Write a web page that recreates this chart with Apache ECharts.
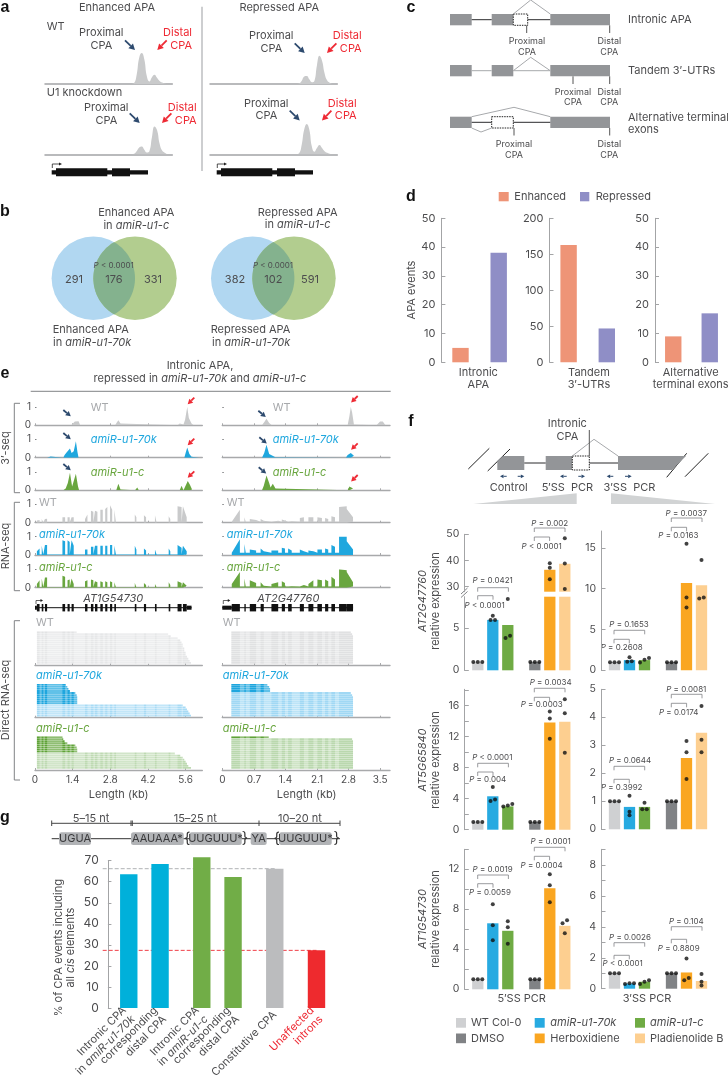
<!DOCTYPE html>
<html>
<head>
<meta charset="utf-8">
<script src="https://cdn.jsdelivr.net/npm/echarts@6/dist/echarts.min.js"></script>
<style>
  html, body { margin: 0; background: #fff; }
  #chart { width: 728px; height: 1081px; }
</style>
</head>
<body>
<div id="chart"></div>
<script>
// panel a: peak shapes on a 0-100 position axis
const aBins = [68, 70, 72, 74, 76, 78, 80, 82, 84, 86, 88, 90, 92, 94, 96]
const aEnhancedWt = [0, 0.03, 0.3, 0.85, 1, 0.8, 0.25, 0.08, 0.22, 0.3, 0.2, 0.1, 0.05, 0.02, 0]
const aEnhancedKd = [0, 0.02, 0.1, 0.22, 0.25, 0.15, 0.06, 0.1, 0.55, 0.9, 0.78, 0.35, 0.12, 0.05, 0]
const aRepressedWt = [0, 0.02, 0.1, 0.24, 0.26, 0.15, 0.06, 0.1, 0.6, 0.91, 0.75, 0.35, 0.12, 0.04, 0]
const aRepressedKd = [0, 0.03, 0.3, 0.8, 0.98, 0.8, 0.25, 0.08, 0.2, 0.3, 0.2, 0.1, 0.05, 0.02, 0]

// panel d
const dCategories = ['Enhanced', 'Repressed']
const dIntronic = [5, 38]
const dTandem = [163, 47]
const dTerminal = [9, 17]

// panel e: 3'-seq, [kb, normalised signal]
const seqWtL = [[0.5,0],[0.55,0.02],[0.7,0],[1.35,0],[1.4,0.1],[1.48,0.2],[1.52,0.28],[1.62,0.22],[1.68,0],[2.98,0],[3.04,0.15],[3.1,0.28],[3.18,0.1],[3.22,0],[5.3,0],[5.38,0.1],[5.45,0.2],[5.52,0.05],[5.58,0.3],[5.66,1],[5.72,0.4],[5.82,0.1],[5.9,0]]
const seq70kL = [[0.45,0],[0.5,0.08],[0.58,0.06],[0.62,0],[1.05,0],[1.1,0.15],[1.18,0.3],[1.3,0.5],[1.36,0.25],[1.44,0.35],[1.52,0.9],[1.58,0.3],[1.62,0],[2.35,0],[2.4,0.04],[2.45,0],[3.05,0],[3.1,0.1],[3.16,0],[4.1,0],[4.15,0.07],[4.2,0],[5.55,0],[5.6,0.25],[5.66,0.55],[5.74,0.2],[5.82,0.05],[5.88,0],[6.1,0],[6.14,0.06],[6.18,0]]
const seqCL = [[0.6,0],[0.65,0.04],[0.7,0],[1.05,0],[1.14,0.1],[1.22,0.4],[1.3,0.95],[1.38,0.2],[1.44,0.3],[1.52,0.9],[1.6,0.2],[1.64,0],[2.6,0],[2.66,0.05],[2.72,0],[3.02,0],[3.1,0.35],[3.18,0.05],[3.22,0],[3.72,0],[3.8,0.15],[3.86,0],[5.05,0],[5.12,0.1],[5.2,0],[5.38,0],[5.45,0.25],[5.52,0],[5.58,0.1],[5.68,0.5],[5.76,0.3],[5.84,0.05],[5.88,0]]
const seqWtR = [[0.88,0],[0.94,0.2],[0.98,0.35],[1.04,0.12],[1.1,0],[2.78,0],[2.82,0.5],[2.85,1],[2.88,0.7],[2.92,0.05],[2.95,0],[3.42,0],[3.5,0.2],[3.56,0.2],[3.62,0]]
const seq70kR = [[0.88,0],[0.93,0.25],[0.98,0.7],[1.04,0.2],[1.08,0.1],[1.18,0.03],[1.22,0],[2.74,0],[2.78,0.15],[2.85,0.25],[2.92,0.1],[2.96,0]]
const seqCR = [[0.88,0],[0.92,0.25],[0.98,0.8],[1.04,0.4],[1.07,0.15],[1.12,0.35],[1.18,0.1],[1.22,0],[2.78,0],[2.82,0.2],[2.86,0.3],[2.9,0.1],[2.93,0]]

// gene models, [start, end] in kb
const exonsL = [[0.07,0.17],[0.25,0.31],[0.37,0.45],[1.02,1.12],[1.21,1.29],[1.36,1.44],[1.86,1.95],[2.08,2.17],[2.23,2.32],[2.43,2.52],[2.61,2.69],[2.79,2.87],[2.95,3.01],[3.71,3.77],[4.05,4.13],[4.46,4.52],[4.97,5.03],[5.30,5.45],[5.50,5.64]]
const exonsR = [[0.21,0.39],[0.49,0.52],[0.61,0.75],[0.85,0.92],[1.09,1.24],[1.32,1.39],[1.46,1.54],[1.72,1.81],[1.91,2.02],[2.11,2.21],[2.28,2.35],[2.42,2.50],[2.59,2.76],[2.76,2.9]]
const utrL = [[0,0.07],[5.64,5.82]]
const utrR = [[0,0.21],[2.76,2.9]]

// RNA-seq, per exon [height at start, height at end]
const rnaWtL = [[0.12,0.15],[0.2,0.2],[0.2,0.22],[0.3,0.3],[0.3,0.3],[0.3,0.3],[0.2,0.45],[0.65,0.6],[0.65,0.6],[0.7,0.7],[0.75,0.85],[0.95,0.7],[0.7,0.65],[0.45,0.3],[0.4,0.3],[0.4,0.3],[0.35,0.2],[0.9,0.85],[0.9,0.3]]
const rna70kL = [[0.2,0.35],[0.5,0.55],[0.55,0.55],[0.8,0.75],[0.8,0.7],[0.8,0.5],[0.3,0.3],[0.45,0.45],[0.5,0.5],[0.5,0.5],[0.5,0.5],[0.55,0.55],[0.5,0.5],[0.5,0.3],[0.35,0.25],[0.3,0.25],[0.35,0.2],[0.55,0.4],[0.5,0.2]]
const rnaCL = [[0.2,0.4],[0.5,0.5],[0.55,0.55],[0.65,0.6],[0.4,0.45],[0.5,0.2],[0.35,0.4],[0.45,0.4],[0.35,0.3],[0.35,0.3],[0.35,0.3],[0.35,0.3],[0.3,0.25],[0.25,0.15],[0.25,0.15],[0.2,0.15],[0.3,0.15],[0.35,0.25],[0.3,0.1]]
const rnaWtR = [[0.15,0.7],[0.3,0.2],[0.2,0.15],[0.2,0.1],[0.08,0.1],[0.18,0.12],[0.12,0.08],[0.25,0.3],[0.3,0.3],[0.3,0.25],[0.25,0.2],[0.35,0.3],[0.85,0.9],[0.75,0.3]]
const rna70kR = [[0.2,0.85],[0.6,0.6],[0.3,0.25],[0.35,0.2],[0.25,0.25],[0.4,0.35],[0.35,0.25],[0.3,0.2],[0.25,0.2],[0.3,0.3],[0.35,0.3],[0.55,0.45],[1,1],[0.75,0.3]]
const rnaCR = [[0.2,0.85],[0.5,0.45],[0.4,0.25],[0.3,0.1],[0.2,0.3],[0.35,0.25],[0.12,0.08],[0.12,0.15],[0.2,0.4],[0.45,0.4],[0.45,0.35],[0.6,0.45],[1,0.95],[0.85,0.3]]

// direct RNA-seq: where each read ends (kb), top row first
const readsWtL = [1.55,4.95,5.05,5.3,5.4,5.45,5.5,5.5,5.55,5.55,5.6,5.6,5.65,5.7,5.75,5.8]
const reads70kL = [1.15,1.2,1.24,1.3,1.5,1.55,1.57,1.57,1.57,1.57,5.5,5.6,5.65,5.7,5.75,5.8]
const readsCL = [1.02,1.05,1.1,1.2,1.5,1.55,1.57,1.57,5.2,5.4,5.5,5.55,5.6,5.65,5.7,5.8]
const readsWtR = [2.85,2.88,2.9,2.9,2.9,2.9,2.9,2.9,2.9,2.9,2.9,2.9,2.9,2.9,2.9,2.9]
const reads70kR = [1.0,1.04,1.06,1.06,2.85,2.88,2.9,2.9,2.9,2.9,2.9,2.9,2.9,2.9,2.9,2.9]
const readsCR = [1.03,2.88,2.9,2.9,2.9,2.9,2.9,2.9,2.9,2.9,2.9,2.9,2.9,2.9,2.9,2.9]

// panel f: WT Col-0, amiR-u1-70k, amiR-u1-c, DMSO, Herboxidiene, Pladienolide B
const fSamples = ['WT Col-0', 'amiR-u1-70k', 'amiR-u1-c', 'DMSO', 'Herboxidiene', 'Pladienolide B']
const f5ss47760 = [1, 6, 5.39, 1, 36.4, 38.7]
const f5ss47760Dots = [[1,1,1],[6.5,6,6],[8.5,4.1,3.85],[1,1,1],[38.9,37.2,32.8],[48.5,38.8,29]]
const f3ss47760 = [1, 1.25, 1.25, 1, 10.7, 10.4]
const f3ss47760Dots = [[1,1,1],[1.6,1.1,1.05],[1.5,1.3,0.95],[1,1,1],[15.5,8.9,7.7],[13.5,8.9,8.8]]
const f5ss65840 = [1, 4.3, 3, 1, 13.8, 13.9]
const f5ss65840Dots = [[1,1,1],[5.5,3.9,3.7],[3.3,3.1,3],[1,1,1],[15.2,14.3,11.7],[16.8,15,9.9]]
const f3ss65840 = [1, 0.8, 0.8, 1, 2.55, 3.45]
const f3ss65840Dots = [[1,1,1],[1.2,0.63,0.5],[0.95,0.72,0.72],[1,1,1],[3.15,2.75,1.8],[4.4,3.2,2.75]]
const f5ss54730 = [1, 6.6, 5.85, 1, 10.1, 6.35]
const f5ss54730Dots = [[1,1,1],[8.5,6.4,4.9],[6.8,6.2,4.55],[1,1,1],[11.5,10.4,8.7],[6.9,6.6,5.6]]
const f3ss54730 = [1, 0.33, 0.45, 1, 1.05, 0.5]
const f3ss54730Dots = [[1,1,1],[0.35,0.35,0.3],[0.55,0.45,0.3],[1,1,1],[1.95,0.7,0.55],[0.95,0.45,0.2]]

// panel g: blank entries only space the groups apart
const gCategories = ['', '', 'Intronic CPA\nin *amiR-u1-70k*', '', '', 'corresponding\ndistal CPA', '', '', '', 'Intronic CPA\nin *amiR-u1-c*', '', '', 'corresponding\ndistal CPA', '', '', '', 'Constitutive CPA', '', '', '', '#Unaffected\n#introns']
const gValues = [null, null, 63.6, null, null, 68.4, null, null, null, 71.6, null, null, 62.2, null, null, null, 66.2, null, null, null, 27.4]
const gConstitutiveLevel = 66.2
const gUnaffectedLevel = 27.4

const GREY = '#c9cacb', BLUE = '#1fa7de', GREEN = '#69a63f', RED = '#ee2a34', NAVY = '#2d4a6e'
const INK = '#4c4c4e', AXIS = '#a3a4a6', FONT = 'Inter'
const fColors = ['#cfd0d2', '#27aae1', '#6fab44', '#808285', '#faa621', '#fdcf90']
const gColors = { 2: '#00b0da', 5: '#00b0da', 9: '#71ad47', 12: '#71ad47', 16: '#bbbcbe', 20: '#ee2a2e' }

const grids = [], xAxes = [], yAxes = [], series = [], g = []

function addGrid(rect, x, y) {
  const i = grids.length
  grids.push(rect)
  xAxes.push({ gridIndex: i, splitLine: { show: false }, ...x })
  yAxes.push({ gridIndex: i, splitLine: { show: false }, ...y })
  return i
}

// ---- graphic helpers for the schematic parts
function label(x, y, text, o = {}) {
  const size = o.size || 11, color = o.color || INK
  const base = { fontSize: size, fontFamily: FONT, fill: color, color }
  const style = { ...base, align: o.align || 'center', verticalAlign: 'middle', fontWeight: o.weight || 400, fontStyle: o.italic ? 'italic' : 'normal' }
  if (text.includes('*')) {
    style.text = text.split('*').map((s, k) => s ? `{${k % 2 ? 'i' : 'n'}|${s}}` : '').join('')
    style.rich = {
      n: { fontSize: size, fontFamily: FONT, color },
      i: { fontSize: size, fontFamily: FONT, color, fontStyle: 'italic' },
    }
  } else {
    style.text = text
  }
  g.push({ type: 'text', x, y, rotation: o.rotation || 0, silent: true, style })
}
function line(x1, y1, x2, y2, stroke, lineWidth = 1, lineDash) {
  g.push({ type: 'line', silent: true, shape: { x1, y1, x2, y2 }, style: { stroke, lineWidth, lineDash } })
}
function poly(points, stroke, lineWidth = 1) {
  g.push({ type: 'polyline', silent: true, shape: { points }, style: { stroke, lineWidth, fill: null } })
}
function fillPoly(points, fill) {
  g.push({ type: 'polygon', silent: true, shape: { points }, style: { fill } })
}
function box(x, y, width, height, fill, stroke, lineDash) {
  g.push({ type: 'rect', silent: true, shape: { x, y, width, height }, style: { fill, stroke, lineDash, lineWidth: stroke ? 1 : 0 } })
}
function arrow(x1, y1, x2, y2, color, lw = 1.8, head = 6) {
  const d = Math.hypot(x2 - x1, y2 - y1), ux = (x2 - x1) / d, uy = (y2 - y1) / d
  const bx = x2 - ux * head, by = y2 - uy * head
  line(x1, y1, bx, by, color, lw)
  fillPoly([[x2, y2], [bx - uy * head * 0.55, by + ux * head * 0.55], [bx + uy * head * 0.55, by - ux * head * 0.55]], color)
}
function bracket(x1, x2, top, leg) {
  poly([[x1, leg], [x1, top], [x2, top], [x2, leg]], '#808285', 0.8)
}
function pLabel(x, y, text) {
  label(x, y, '*P*' + text, { size: 8 })
}

// ---- panel letters
const letters = [['a', 5, 8], ['b', 5, 212], ['c', 411, 8], ['d', 411, 197], ['e', 5, 374], ['f', 411, 422], ['g', 5, 818]]
letters.forEach(([s, x, y]) => g.push({ type: 'text', x, y, silent: true, style: { text: s, fontFamily: 'Liberation Sans', fontWeight: 700, fontSize: 16, fill: '#111', align: 'center', verticalAlign: 'middle' } }))

// ---- panel a
label(117, 8, 'Enhanced APA'); label(279.3, 8, 'Repressed APA')
line(202, 6.7, 202, 171, '#bcbec0', 1.5)
label(46.7, 26.3, 'WT', { align: 'left' }); label(46.7, 92.7, 'U1 knockdown', { align: 'left' })
;[[101.3, 33, 192, 125, 40.3], [271.3, 36, 361.7, 294.7, 43.3], [106.3, 107.7, 196.7, 129.7, 113.3], [266.3, 103.3, 356.7, 289.7, 110.7]].forEach(([px, py, dx, ax, ay]) => {
  label(px, py, 'Proximal'); label(px, py + 12.7, 'CPA')
  label(dx, py, 'Distal', { align: 'right', color: RED }); label(dx, py + 12.7, 'CPA', { align: 'right', color: RED })
  arrow(ax, ay, ax + 10, ay + 9.7, NAVY)
  arrow(ax + 41.7, ay, ax + 32.3, ay + 9.7, RED)
})
function aTrack(left, top, values) {
  const i = addGrid({ left, top, width: 127.3, height: 31 },
    { type: 'value', min: 0, max: 100, axisLabel: { show: false }, axisTick: { show: false }, axisLine: { lineStyle: { color: '#a3a4a6', width: 1.5 } } },
    { type: 'value', min: 0, max: 1, show: false })
  series.push({ type: 'line', xAxisIndex: i, yAxisIndex: i, smooth: true, showSymbol: false, lineStyle: { width: 0 }, areaStyle: { color: GREY, opacity: 1 }, data: aBins.map((b, k) => [b, values[k]]) })
}
aTrack(45, 53, aEnhancedWt); aTrack(45, 123.3, aEnhancedKd); aTrack(210, 53, aRepressedWt); aTrack(210, 123.3, aRepressedKd)
;[0, 165].forEach(dx => {
  box(51.7 + dx, 170.2, 96.3, 4.3, '#111')
  box(56 + dx, 168.3, 51.3, 8, '#111'); box(112 + dx, 168.3, 18, 8, '#111')
  poly([[52.3 + dx, 168], [52.3 + dx, 164], [60 + dx, 164]], '#222', 0.8)
  fillPoly([[62 + dx, 164], [59 + dx, 162.4], [59 + dx, 165.6]], '#222')
})

// ---- panel b
function lens(cx1, cx2, cy, r) {
  const pts = [], a = Math.acos((cx2 - cx1) / 2 / r)
  for (let k = 0; k <= 40; k++) { const t = -a + 2 * a * k / 40; pts.push([cx1 + r * Math.cos(t), cy + r * Math.sin(t)]) }
  for (let k = 0; k <= 40; k++) { const t = Math.PI - a + 2 * a * k / 40; pts.push([cx2 + r * Math.cos(t), cy + r * Math.sin(t)]) }
  return pts
}
function venn(cx1, cx2, nums, numXs, pX) {
  g.push({ type: 'circle', silent: true, shape: { cx: cx1, cy: 278.3, r: 41.7 }, style: { fill: '#b1d7f1' } })
  g.push({ type: 'circle', silent: true, shape: { cx: cx2, cy: 278.3, r: 41.7 }, style: { fill: '#b2cd8f' } })
  fillPoly(lens(cx1, cx2, 278.3, 41.7), '#84b28e')
  nums.forEach((n, k) => label(numXs[k], 279.7, String(n)))
  pLabel(pX, 265.7, ' < 0.0001')
}
venn(93.3, 135, [291, 176, 331], [74, 114, 153], 113.7)
venn(252.7, 294, [382, 102, 591], [235, 273.3, 310], 273)
label(136.3, 213, 'Enhanced APA'); label(136.3, 225.7, 'in *amiR-u1-c*')
label(297.7, 212.3, 'Repressed APA'); label(297.7, 225, 'in *amiR-u1-c*')
label(52.7, 329.3, 'Enhanced APA', { align: 'left' }); label(53, 342.7, 'in *amiR-u1-70k*', { align: 'left' })
label(210.7, 329.3, 'Repressed APA', { align: 'left' }); label(212, 342.7, 'in *amiR-u1-70k*', { align: 'left' })

// ---- panel c
const EXON = '#939598', INTRON = '#2b2b2d', SPLICE = '#a7a9ac'
function cRow(y, name, nameY) {
  box(450, y, 21.7, 11.3, EXON); box(550.3, y, 59.7, 11.3, EXON)
  label(628, nameY, name, { align: 'left' })
}
function cLabels(px, y) {
  label(px, y, 'Proximal', { size: 9 }); label(px, y + 10.5, 'CPA', { size: 9 })
  label(609.3, y, 'Distal', { size: 9 }); label(609.3, y + 10.5, 'CPA', { size: 9 })
}
cRow(14, 'Intronic APA', 19.7)
box(491.7, 14, 21.6, 11.3, EXON); box(513.3, 14, 14.4, 11.3, '#fff', '#222', [1.5, 1])
line(471.7, 19.7, 491.7, 19.7, INTRON); line(527.7, 19.7, 550.3, 19.7, INTRON)
poly([[513.3, 14], [530.7, 0], [550.3, 14]], SPLICE)
line(526.7, 25.3, 526.7, 33, '#555'); line(609.7, 25.3, 609.7, 33, '#555')
cLabels(527, 41.3)
cRow(65, 'Tandem 3′-UTRs', 70.7)
box(491.7, 65, 21.6, 11.3, EXON)
line(471.7, 70.7, 491.7, 70.7, SPLICE); line(513.3, 70.7, 550.3, 70.7, SPLICE)
poly([[513.3, 70.7], [530.7, 57.3], [550.3, 70.7]], SPLICE)
line(573, 76.3, 573, 84, '#555'); line(609.7, 76.3, 609.7, 84, '#555')
cLabels(573, 92)
cRow(116.7, 'Alternative terminal', 117.3)
label(628, 130, 'exons', { align: 'left' })
box(491.7, 116.7, 21.6, 11.3, '#fff', '#222', [1.5, 1])
line(471.7, 122.3, 491.7, 122.3, INTRON); line(513.3, 122.3, 550.3, 122.3, INTRON)
poly([[471.7, 116.7], [514, 107.3], [550.3, 116.7]], SPLICE)
poly([[471.7, 128], [481, 132], [491.7, 128]], SPLICE)
line(514, 128, 514, 135.5, '#555'); line(609.7, 128, 609.7, 135.5, '#555')
cLabels(514, 144.3)

// ---- panel d
box(498.7, 192, 10, 9.3, '#ee9477'); label(514.3, 196.7, dCategories[0], { align: 'left' })
box(580, 192, 9.3, 9.3, '#8f8ec6'); label(595.7, 196.7, dCategories[1], { align: 'left' })
label(412, 290, 'APA events', { rotation: Math.PI / 2 })
function dPanel(left, name, max, ticks, values) {
  const i = addGrid({ left, top: 218.3, width: 76.4, height: 144 },
    { type: 'category', data: [name, ' '], axisLine: { show: false }, axisTick: { show: false },
      axisLabel: { show: false } },
    { type: 'value', min: 0, max, interval: ticks, axisLine: { show: true, lineStyle: { color: AXIS } },
      axisTick: { show: true, inside: true, length: 4, lineStyle: { color: AXIS } },
      axisLabel: { color: INK, fontSize: 11, fontFamily: FONT, margin: 6 } })
  series.push({ type: 'bar', xAxisIndex: i, yAxisIndex: i, barWidth: 16.4, data: values.map((v, k) => ({ value: v, itemStyle: { color: k ? '#8f8ec6' : '#ee9477' } })) })
}
dPanel(441.4, 'Intronic', 50, 10, dIntronic)
dPanel(549.5, 'Tandem', 200, 50, dTandem)
dPanel(655, 'Alternative', 50, 10, dTerminal)
label(478.3, 372.5, 'Intronic'); label(478.3, 385, 'APA')
label(589, 372.5, 'Tandem'); label(589, 385, '3′-UTRs')
label(690.7, 372.5, 'Alternative'); label(690.7, 385, 'terminal exons')

// ---- panel e
label(200, 365.3, 'Intronic APA,'); label(200, 378.3, 'repressed in *amiR-u1-70k* and *amiR-u1-c*')
line(30.7, 391.3, 390.7, 391.3, '#808285')
;[[403.3, 492.7, '3′-seq', 448], [502.3, 590.7, 'RNA-seq', 546], [620.7, 780, 'Direct RNA-seq', 700]].forEach(([a, b, s, my]) => {
  poly([[20, a], [14.3, a], [14.3, b], [20, b]], '#808285')
  label(6, my, s, { rotation: Math.PI / 2 })
})
const COLS = [
  { left: 35, width: 167.3, max: 6.22, ticks: [0, 1.4, 2.8, 4.2, 5.6], exons: exonsL, utr: utrL, start: 0.07, darkBelow: 2 },
  { left: 222.3, width: 167.7, max: 3.72, ticks: [0, 0.7, 1.4, 2.1, 2.8, 3.5], exons: exonsR, utr: utrR, start: 0.2, darkBelow: 1.2 },
]
function xTrackAxis(col, showLabels) {
  return { type: 'value', min: 0, max: col.max,
    axisLine: { show: true, lineStyle: { color: '#a8a9ab', width: 1.4 } },
    axisTick: { show: true, inside: true, length: 2, customValues: col.ticks, lineStyle: { color: '#a8a9ab' } },
    axisLabel: { show: showLabels, customValues: col.ticks, color: INK, fontSize: 10, fontFamily: FONT, margin: 5 } }
}
function signalTrack(col, baseline, color, data, showNums) {
  const i = addGrid({ left: col.left, top: baseline - 18.4, width: col.width, height: 18.4 }, xTrackAxis(col, false),
    { type: 'value', min: 0, max: 1, axisLine: { show: false },
      axisTick: { show: true, inside: true, length: 1.5, customValues: [1], lineStyle: { color: '#808285' } },
      axisLabel: { show: showNums, customValues: [0, 1], color: INK, fontSize: 10, fontFamily: FONT, margin: 4 } })
  series.push({ type: 'line', xAxisIndex: i, yAxisIndex: i, showSymbol: false, lineStyle: { width: 0 }, areaStyle: { color, opacity: 1 }, data })
}
function exonLine(exons, heights, level) {
  const out = []
  exons.forEach(([s, e], k) => { out.push([s, level], [s, heights[k][0]], [e, heights[k][1]], [e, level]) })
  return out
}
signalTrack(COLS[0], 425.3, GREY, seqWtL, true); signalTrack(COLS[0], 457.7, BLUE, seq70kL, true); signalTrack(COLS[0], 490.3, GREEN, seqCL, true)
signalTrack(COLS[1], 425.3, GREY, seqWtR, false); signalTrack(COLS[1], 457.7, BLUE, seq70kR, false); signalTrack(COLS[1], 490.3, GREEN, seqCR, false)
signalTrack(COLS[0], 522.7, GREY, exonLine(exonsL, rnaWtL, 0.01), true); signalTrack(COLS[0], 555, BLUE, exonLine(exonsL, rna70kL, 0.03), true); signalTrack(COLS[0], 587.7, GREEN, exonLine(exonsL, rnaCL, 0.02), true)
signalTrack(COLS[1], 522.7, GREY, exonLine(exonsR, rnaWtR, 0.05), false); signalTrack(COLS[1], 555, BLUE, exonLine(exonsR, rna70kR, 0.12), false); signalTrack(COLS[1], 587.7, GREEN, exonLine(exonsR, rnaCR, 0.06), false)

;[[90.7, 272.7]].forEach(([a, b]) => [a, b].forEach(x => {
  label(x, 407.3, 'WT', { align: 'left', color: '#a7a9ac' })
  label(x, 440, '*amiR-u1-70k*', { align: 'left', color: BLUE })
  label(x, 472.7, '*amiR-u1-c*', { align: 'left', color: GREEN })
}))
;[[39, 226.7]].forEach(([a, b]) => [a, b].forEach(x => {
  label(x, 502.3, 'WT', { align: 'left', color: '#a7a9ac' })
  label(x, 534.7, '*amiR-u1-70k*', { align: 'left', color: BLUE })
  label(x, 567.7, '*amiR-u1-c*', { align: 'left', color: GREEN })
}))
;[[36, 222.7]].forEach(([a, b]) => [a, b].forEach(x => {
  label(x, 622.7, 'WT', { align: 'left', color: '#a7a9ac' })
  label(x, 676, '*amiR-u1-70k*', { align: 'left', color: BLUE })
  label(x, 729, '*amiR-u1-c*', { align: 'left', color: GREEN })
}))
;[[63.3, 410, 194.3, 397.7], [63.3, 433, 194.3, 438.7], [63.3, 464, 194.3, 471.3], [258.3, 410.7, 357.7, 396], [259.3, 437.3, 357.7, 443.3], [258.7, 467.3, 357.7, 475]].forEach(([bx, by, rx, ry]) => {
  arrow(bx, by, bx + 7.5, by + 6.3, NAVY, 1.8, 5)
  arrow(rx, ry, rx - 6.6, ry + 6.5, RED, 1.8, 5)
})

function geneTrack(col) {
  const i = addGrid({ left: col.left, top: 604, width: col.width, height: 7.4 },
    { type: 'value', min: 0, max: col.max, show: false }, { type: 'value', min: 0, max: 1, show: false })
  const rectSeries = (data, frac) => ({
    type: 'custom', xAxisIndex: i, yAxisIndex: i, data,
    renderItem: (p, api) => {
      const a = api.coord([api.value(0), 0.5 + frac / 2]), b = api.coord([api.value(1), 0.5 - frac / 2])
      return { type: 'rect', shape: { x: a[0], y: a[1], width: b[0] - a[0], height: b[1] - a[1] }, style: { fill: '#111' } }
    },
  })
  const last = col.utr[col.utr.length - 1][1]
  series.push({ type: 'line', xAxisIndex: i, yAxisIndex: i, showSymbol: false, lineStyle: { color: '#111', width: 1 }, data: [[0, 0.5], [last, 0.5]] })
  series.push(rectSeries(col.exons, 1), rectSeries(col.utr, 0.55))
  poly([[col.left + 1, 604], [col.left + 1, 600.5], [col.left + 6, 600.5]], '#222', 0.7)
  fillPoly([[col.left + 8, 600.5], [col.left + 5.5, 599], [col.left + 5.5, 602]], '#222')
}
geneTrack(COLS[0]); geneTrack(COLS[1])
label(113.3, 599, '*AT1G54730*'); label(288.3, 599, '*AT2G47760*')

function readTrack(col, baseline, reads, dark, light, showLabels) {
  const n = reads.length, rowH = 2.05
  const i = addGrid({ left: col.left, top: baseline - n * rowH - 1, width: col.width, height: n * rowH + 1 }, xTrackAxis(col, showLabels),
    { type: 'value', min: 0, max: n + 0.5, show: false })
  const rows = reads.map((end, k) => [col.start, end, n - k, end < col.darkBelow ? 1 : 0])
  series.push({ type: 'custom', xAxisIndex: i, yAxisIndex: i, data: rows, clip: true,
    renderItem: (p, api) => {
      const a = api.coord([api.value(0), api.value(2) + 0.5]), b = api.coord([api.value(1), api.value(2) - 0.5])
      return { type: 'rect', shape: { x: a[0], y: a[1], width: b[0] - a[0], height: (b[1] - a[1]) - 0.2 }, style: { fill: api.value(3) ? dark : light } }
    },
  })
  const gaps = col.exons.slice(1).map((e, k) => [col.exons[k][1], e[0]])
  series.push({ type: 'custom', xAxisIndex: i, yAxisIndex: i, data: gaps,
    renderItem: (p, api) => {
      const a = api.coord([api.value(0), n + 0.5]), b = api.coord([api.value(1), 0.5])
      return { type: 'rect', shape: { x: a[0], y: a[1], width: b[0] - a[0], height: b[1] - a[1] }, style: { fill: 'rgba(255,255,255,0.3)' } }
    },
  })
}
readTrack(COLS[0], 665, readsWtL, '#e2e3e4', '#e6e7e8', false); readTrack(COLS[0], 717.7, reads70kL, '#1ea6de', '#a8dbf5', false); readTrack(COLS[0], 770, readsCL, '#5fa337', '#bedab2', true)
readTrack(COLS[1], 665, readsWtR, '#e2e3e4', '#e0e1e2', false); readTrack(COLS[1], 717.7, reads70kR, '#1ea6de', '#a0d8f4', false); readTrack(COLS[1], 770, readsCR, '#5fa337', '#bad8ae', true)
label(118.7, 795, 'Length (kb)'); label(306.7, 795, 'Length (kb)')

// ---- panel f
const slots = [0, 1, 2, 3.8, 4.8, 5.8]
const F_PITCH = 15
// spreads dots of nearly equal value side by side, like the reference
function dodge(slot, values, unitsPerDot) {
  const sorted = [...values].sort((a, b) => a - b), out = []
  let start = 0
  for (let k = 1; k <= sorted.length; k++) {
    if (k === sorted.length || sorted[k] - sorted[k - 1] > unitsPerDot) {
      const m = k - start
      for (let j = start; j < k; j++) out.push([slot + (j - start - (m - 1) / 2) * 0.3, sorted[j]])
      start = k
    }
  }
  return out
}
function fGrid(left, top, height, min, max, ticks, labels) {
  const i = addGrid({ left, top, width: 7.5 * F_PITCH, height },
    { type: 'value', min: -0.9, max: 6.6, show: false },
    { type: 'value', min, max,
      axisLine: { show: true, onZero: false, lineStyle: { color: AXIS } },
      axisTick: { show: true, inside: true, length: 4.5, customValues: ticks, lineStyle: { color: AXIS } },
      axisLabel: { customValues: labels, color: INK, fontSize: 10.5, fontFamily: FONT, margin: 5 } })
  return i
}
function fMarks(i, values, dots, pxPerUnit, keep) {
  series.push({ type: 'bar', xAxisIndex: i, yAxisIndex: i, barWidth: 11.3, clip: true, z: 2,
    data: values.map((v, k) => ({ value: [slots[k], v], itemStyle: { color: fColors[k] } })).filter(d => keep(d.value[1])) })
  const pts = dots.flatMap((vals, k) => dodge(slots[k], vals, 3.6 / pxPerUnit)).filter(p => keep(p[1]) && keep.dot(p[1]))
  series.push({ type: 'scatter', xAxisIndex: i, yAxisIndex: i, symbolSize: 4, itemStyle: { color: '#111' }, z: 3, clip: false, data: pts })
}
function all() { return true }
all.dot = () => true
function fPanel(left, zero, pxPerUnit, top, ticks, labels, values, dots) {
  const max = (zero - top) / pxPerUnit
  const i = fGrid(left, top, zero - top, 0, max, ticks, labels)
  fMarks(i, values, dots, pxPerUnit, all)
}
// first panel has a broken axis: two stacked grids sharing the same data
const lower = fGrid(464.3, 596.7, 73.6, 0, 8.76, [0, 5], [0, 5])
const keepLow = () => true
keepLow.dot = v => v <= 8.76
fMarks(lower, f5ss47760, f5ss47760Dots, 8.4, keepLow)
const upper = fGrid(464.3, 534.3, 57.4, 28, 50, [30, 40, 50], [30, 40, 50])
const keepUp = v => v > 28
keepUp.dot = () => true
fMarks(upper, f5ss47760, f5ss47760Dots, 2.61, keepUp)
line(461, 597.5, 467.5, 591.5, '#808285'); line(461, 594, 467.5, 588, '#808285')

fPanel(601, 670.3, 8.17, 531, [0, 5, 10, 15], [0, 5, 10, 15], f3ss47760, f3ss47760Dots)
fPanel(464.3, 829.7, 7.77, 689.3, [0, 2, 4, 6, 8, 10, 12, 14, 16, 18], [0, 4, 8, 12, 16], f5ss65840, f5ss65840Dots)
fPanel(601, 829.3, 28, 689.3, [0, 1, 2, 3, 4, 5], [0, 1, 2, 3, 4, 5], f3ss65840, f3ss65840Dots)
fPanel(464.3, 989.3, 10, 849.3, [0, 2, 4, 6, 8, 10, 12, 14], [0, 4, 8, 12], f5ss54730, f5ss54730Dots)
fPanel(601, 988.7, 15.46, 849.3, [0, 1, 2, 3, 4, 5, 6, 7, 8, 9], [0, 2, 4, 6, 8], f3ss54730, f3ss54730Dots)

// gene schematic
label(567.3, 423.3, 'Intronic'); label(567.3, 436.7, 'CPA')
line(468.3, 469, 489.3, 448.3, '#222'); line(487.7, 471, 510, 449, '#222')
line(666.7, 477.3, 686.7, 453.3, '#222'); line(685, 476.7, 708.3, 453.3, '#222')
fillPoly([[497.3, 470], [497.3, 461], [503, 456], [524.3, 456], [524.3, 470]], EXON)
box(545.7, 456, 26.6, 14, EXON)
box(572.3, 456, 17, 14, '#fff', '#222', [1.5, 1])
fillPoly([[618, 456], [686, 456], [672, 470], [618, 470]], EXON)
line(524.3, 463, 545.7, 463, INTRON); line(589.3, 463, 618, 463, INTRON)
poly([[572.3, 456], [594, 439.3], [618, 456]], SPLICE)
line(589.3, 430, 589.3, 456, '#555')
;[[506.7, 500], [517.7, 524.3], [566.7, 560], [578.3, 585], [613.3, 606.7], [625, 631.7]].forEach(([a, b]) => arrow(a, 476.3, b, 476.3, NAVY, 1, 3.5))
label(508.7, 487.3, 'Control'); label(553.3, 487.3, '5′SS'); label(582, 487.3, 'PCR'); label(615.3, 487.3, '3′SS'); label(644.3, 487.3, 'PCR')
fillPoly([[473.3, 504], [576.7, 493.3], [576.7, 504]], '#d1d3d4')
fillPoly([[611, 493.3], [715, 504], [611, 504]], '#d1d3d4')

// P-value brackets: [x-start of group, outer top, inner top, outer label, inner label]
const L1 = 477.7, L2 = 534.3, R1 = 614, R2 = 671.3
;[
  [L1, 587.7, 595.7, [492.7, 581, ' = 0.0421'], [484.7, 606, ' < 0.0001']],
  [L2, 528, 537, [549.7, 523.7, ' = 0.002'], [541.7, 546.3, ' < 0.0001']],
  [R1, 630.3, 639.3, [629, 624.7, ' = 0.1653'], [621.7, 648, ' = 0.2608']],
  [R2, 518, 527.3, [686.3, 513.7, ' = 0.0037'], [678.3, 535.7, ' = 0.0163']],
  [L1, 763.3, 772, [492.3, 757.7, ' < 0.0001'], [487.7, 780, ' = 0.004']],
  [L2, 688.3, 697.3, [550.7, 682.3, ' = 0.0034'], [541.7, 704.7, ' = 0.0003']],
  [R1, 766.3, 779.3, [630, 761, ' = 0.0644'], [621.7, 788, ' = 0.3992']],
  [R2, 694.3, 703.3, [686.3, 689.3, ' = 0.0081'], [678.7, 712.3, ' = 0.0174']],
  [L1, 875, 883.7, [492.7, 869.7, ' = 0.0019'], [490, 893, ' = 0.0059']],
  [L2, 847.3, 856.3, [550.7, 842, ' = 0.0001'], [541.7, 865.3, ' = 0.0004']],
  [R1, 942.7, 955.3, [630, 937.3, ' = 0.0026'], [622.7, 964, ' < 0.0001']],
  [R2, 926.7, 939.3, [686.3, 921.7, ' = 0.104'], [678.7, 949, ' = 0.8809']],
].forEach(([x, outer, inner, a, b]) => {
  bracket(x, x + 30.7, outer, outer + 4); bracket(x, x + 15.3, inner, inner + 4)
  pLabel(a[0], a[1], a[2]); pLabel(b[0], b[1], b[2])
})
;[['*AT2G47760*', 601], ['*AT5G65840*', 760], ['*AT1G54730*', 919]].forEach(([s, y]) => {
  label(423, y, s, { rotation: Math.PI / 2 }); label(436, y, 'relative expression', { rotation: Math.PI / 2 })
})
label(521.7, 998.3, '5′SS PCR'); label(647, 998.3, '3′SS PCR')
;[[456, 471, 1018, 0, ''], [534.7, 550.3, 1018, 1, '*'], [635, 650, 1018, 2, '*'], [456, 471, 1033.5, 3, ''], [534.7, 550.3, 1033.5, 4, ''], [635, 650, 1033.5, 5, '']].forEach(([sx, tx, y, k, m]) => {
  box(sx, y, 10, 9.7, fColors[k]); label(tx, y + 5, m + fSamples[k] + m, { align: 'left' })
})

// ---- panel g
line(51.7, 823.3, 340, 823.3, '#444')
;[51.7, 131, 132.3, 259, 340].forEach(x => line(x, 820.5, x, 826, '#444'))
label(91, 818.3, '5–15 nt'); label(195.3, 818.3, '15–25 nt'); label(300, 818.3, '10–20 nt')
line(51.7, 838.7, 340, 838.7, '#333')
;[[59, 32, 'UGUA'], [131, 52.7, 'AAUAAA*'], [189.3, 52.4, 'UUGUUU*'], [250.7, 16, 'YA'], [279, 52.7, 'UUGUUU*']].forEach(([x, w, s]) => {
  g.push({ type: 'rect', silent: true, shape: { x, y: 832.3, width: w, height: 12.7, r: 2.5 }, style: { fill: '#b1b3b6' } })
  g.push({ type: 'text', x: x + w / 2, y: 838.7, silent: true, style: { text: s, fontFamily: FONT, fontSize: 11, fill: '#3a3a3c', align: 'center', verticalAlign: 'middle' } })
})
;[[187.3, '{'], [245, '}'], [276.7, '{'], [336.7, '}']].forEach(([x, s]) => g.push({ type: 'text', x, y: 838, silent: true, style: { text: s, fontFamily: FONT, fontSize: 15, fill: '#333', align: 'center', verticalAlign: 'middle' } }))
label(58.3, 947.7, '% of CPA events including', { rotation: Math.PI / 2 })
label(70.7, 947.7, 'all *cis* elements', { rotation: Math.PI / 2 })

const gIdx = addGrid({ left: 102.7, top: 860.7, width: 219, height: 150 },
  { type: 'category', data: gCategories, axisLine: { show: false }, axisTick: { show: false },
    axisLabel: { interval: 0, rotate: 45, margin: 5, lineHeight: 12.5, fontSize: 11, fontFamily: FONT, color: INK,
      formatter: v => v.split('\n').map(row => {
        if (row[0] === '#') return `{r|${row.slice(1)}}`
        return row.split('*').map((s, k) => s ? `{${k % 2 ? 'i' : 'n'}|${s}}` : '').join('')
      }).join('\n'),
      rich: {
        n: { fontSize: 11, fontFamily: FONT, color: INK, lineHeight: 12.5 },
        i: { fontSize: 11, fontFamily: FONT, color: INK, fontStyle: 'italic', lineHeight: 12.5 },
        r: { fontSize: 11, fontFamily: FONT, color: RED, lineHeight: 12.5 },
      } } },
  { type: 'value', min: 0, max: 70, interval: 10, axisLine: { show: true, lineStyle: { color: AXIS } },
    axisTick: { show: true, inside: true, length: 3.5, lineStyle: { color: AXIS } },
    axisLabel: { color: INK, fontSize: 12, fontFamily: FONT, margin: 4 } })
// hidden second x axis in slot units, so the dashed levels can start at the y axis
xAxes.push({ gridIndex: gIdx, type: 'value', min: -0.5, max: 20.5, show: false, splitLine: { show: false } })
const gDashAxis = xAxes.length - 1
series.push({ type: 'line', xAxisIndex: gDashAxis, yAxisIndex: gIdx, z: 1, showSymbol: false, lineStyle: { color: '#a7a9ac', type: [4, 2], width: 0.9 }, data: [[-0.5, gConstitutiveLevel], [16, gConstitutiveLevel]] })
series.push({ type: 'line', xAxisIndex: gDashAxis, yAxisIndex: gIdx, z: 1, showSymbol: false, lineStyle: { color: RED, type: [4, 2], width: 0.9 }, data: [[-0.5, gUnaffectedLevel], [20, gUnaffectedLevel]] })
series.push({ type: 'bar', xAxisIndex: gIdx, yAxisIndex: gIdx, barWidth: 17.4, clip: false, z: 2,
  data: gValues.map((v, k) => ({ value: v, itemStyle: { color: gColors[k] } })) })

const chart = echarts.init(document.getElementById('chart'), null, { renderer: 'canvas' })
chart.setOption({
  animation: false,
  tooltip: { show: false },
  grid: grids,
  xAxis: xAxes,
  yAxis: yAxes,
  series,
  graphic: { elements: g },
})
</script>
</body>
</html>
